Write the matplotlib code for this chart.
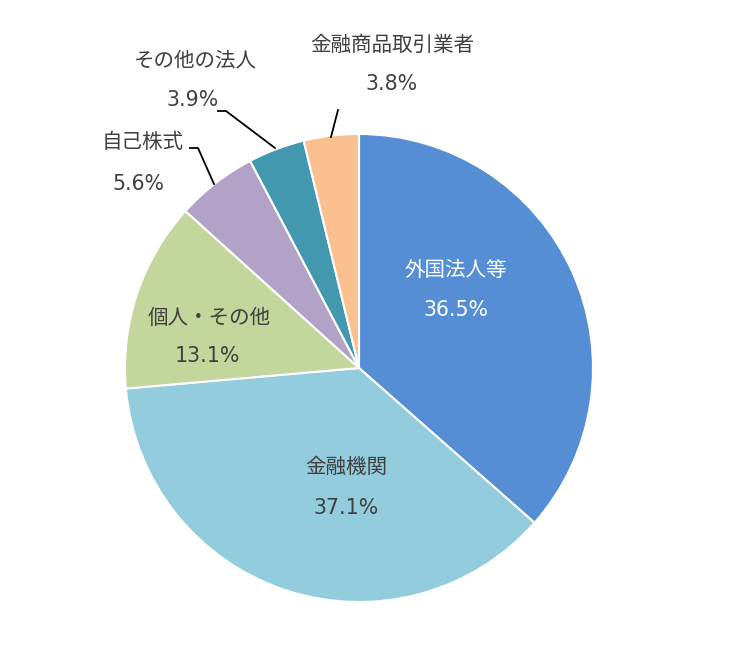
import matplotlib
matplotlib.use("Agg")
import matplotlib.pyplot as plt

plt.rcParams['font.family'] = ['Noto Sans CJK JP', 'DejaVu Sans']

categories = ['外国法人等', '金融機関', '個人・その他', '自己株式', 'その他の法人', '金融商品取引業者']
values = [36.5, 37.1, 13.1, 5.6, 3.9, 3.8]
colors = ['#558ED5', '#93CDDD', '#C3D69B', '#B3A2C7', '#4198AF', '#FAC090']

W, H = 737, 658
fig = plt.figure(figsize=(W / 100, H / 100), dpi=100)
ax = fig.add_axes([0, 0, 1, 1])

cx, cy, r = 359, H - 368, 234
ax.pie(values, colors=colors, startangle=90, counterclock=False,
       center=(cx, cy), radius=r, frame=True,
       wedgeprops=dict(edgecolor='white', linewidth=1.5))
ax.set_xlim(0, W)
ax.set_ylim(0, H)
ax.set_aspect('equal')
ax.axis('off')

# label positions (pixel coords, top-left origin): name, value
label_pos = [((456, 270), (456, 310)),
             ((346, 467), (346, 508)),
             ((209, 318), (207, 356)),
             ((143, 142), (138, 184)),
             ((195, 60), (193, 100)),
             ((392, 45), (392, 84))]
text_colors = ['white', '#404040', '#404040', '#404040', '#404040', '#404040']
fs = 14.8
for cat, v, (p1, p2), tc in zip(categories, values, label_pos, text_colors):
    ax.text(p1[0], H - p1[1], cat, ha='center', va='center', fontsize=fs, color=tc)
    ax.text(p2[0], H - p2[1], f'{v:.1f}%', ha='center', va='center', fontsize=fs,
            color=tc, family=['DejaVu Sans'])

# leader lines (pixel coords)
leaders = [[(190, 148), (198, 148), (214, 184)],
           [(218, 111), (226, 111), (275, 148)],
           [(338, 110), (331, 137)]]
for pts in leaders:
    xs = [p[0] for p in pts]
    ys = [H - p[1] for p in pts]
    ax.plot(xs, ys, color='black', lw=1.3)

fig.savefig('out.png', dpi=100)
